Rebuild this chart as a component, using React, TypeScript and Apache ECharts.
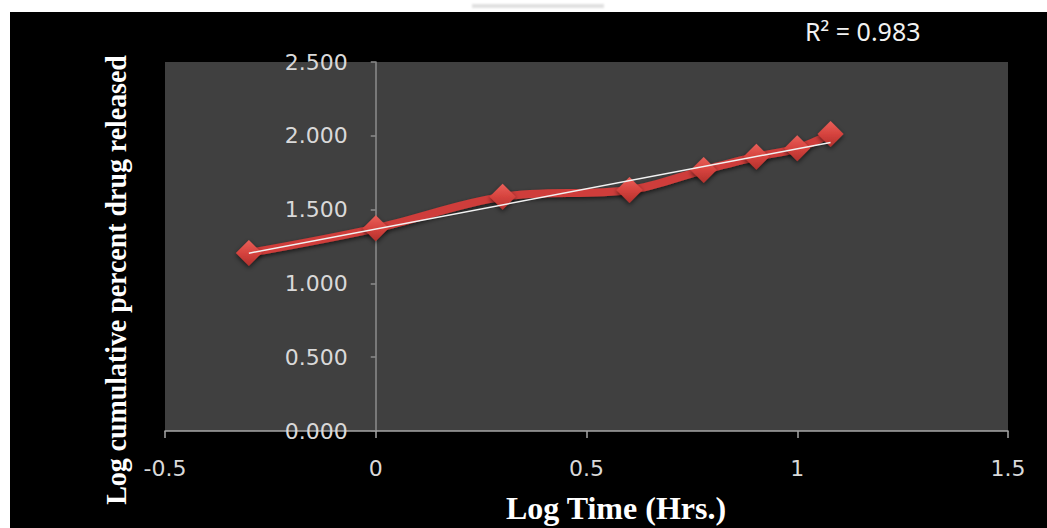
import React, { useEffect, useRef } from "react";
import * as echarts from "echarts";

const logTime = [-0.301, 0, 0.301, 0.602, 0.778, 0.903, 1.0, 1.079];
const logRelease = [1.206, 1.373, 1.587, 1.633, 1.768, 1.858, 1.915, 2.012];
const trendX = [-0.301, 1.079];
const trendY = [1.205, 1.955];
const xTicks = [-0.5, 1.5, 0.5];
const yTicks = [0, 2.5, 0.5];
const rSquaredLabel = "R² = 0.983";
const xTitle = "Log Time (Hrs.)";
const yTitle = "Log cumulative percent drug released";

export default function App() {
  const ref = useRef<HTMLDivElement>(null);
  useEffect(() => {
    if (!ref.current) return;
    const chart = echarts.init(ref.current, null, { renderer: "svg" });
    const tickFont = "'DejaVu Sans', sans-serif";
    const gridLeft = 155;
    const gridRight = 39;
    const gridWidth = 1037 - gridLeft - gridRight;
    const zeroOffset = -gridWidth * (0 - xTicks[0]) / (xTicks[1] - xTicks[0]);
    chart.setOption({
      animation: false,
      backgroundColor: "#000000",
      grid: {
        left: gridLeft,
        top: 50,
        right: gridRight,
        bottom: 97,
        show: true,
        backgroundColor: "#404040",
        borderWidth: 0,
      },
      xAxis: {
        type: "value",
        min: xTicks[0],
        max: xTicks[1],
        interval: xTicks[2],
        axisLine: { show: true, onZero: false, lineStyle: { color: "#a6a6a6", width: 1.5 } },
        axisTick: { show: true, inside: false, length: 7, lineStyle: { color: "#a6a6a6", width: 1.5 } },
        splitLine: { show: false },
        axisLabel: {
          color: "#d9d9d9",
          fontFamily: tickFont,
          fontSize: 22,
          margin: 26,
          showMinLabel: true,
          showMaxLabel: true,
        },
      },
      yAxis: {
        type: "value",
        position: "left",
        offset: zeroOffset,
        min: yTicks[0],
        max: yTicks[1],
        interval: yTicks[2],
        axisLine: { show: true, onZero: false, lineStyle: { color: "#8c8c8c", width: 1.5 } },
        axisTick: { show: true, inside: false, length: 5, lineStyle: { color: "#8c8c8c", width: 1.5 } },
        splitLine: { show: false },
        axisLabel: {
          color: "#d9d9d9",
          fontFamily: tickFont,
          fontSize: 22,
          margin: 28,
          formatter: (v: number) => v.toFixed(3),
        },
      },
      series: [
        {
          type: "line",
          data: logTime.map((x, i) => [x, logRelease[i]]),
          smooth: 0.35,
          z: 2,
          lineStyle: {
            color: "#cf3e3a",
            width: 8,
            shadowColor: "rgba(0,0,0,0.6)",
            shadowBlur: 4,
            shadowOffsetY: 2,
          },
          symbol: "diamond",
          symbolSize: 26,
          itemStyle: {
            color: new echarts.graphic.LinearGradient(0, 0, 0, 1, [
              { offset: 0, color: "#e9605a" },
              { offset: 0.5, color: "#d6433e" },
              { offset: 1, color: "#b3302c" },
            ]),
            shadowColor: "rgba(0,0,0,0.6)",
            shadowBlur: 5,
            shadowOffsetY: 2,
          },
        },
        {
          type: "line",
          data: trendX.map((x, i) => [x, trendY[i]]),
          z: 5,
          symbol: "none",
          lineStyle: { color: "#f2f2f2", width: 1.5 },
        },
      ],
      graphic: [
        {
          type: "text",
          x: 795,
          y: 19,
          style: {
            text: rSquaredLabel,
            fill: "#f2f2f2",
            font: "25px 'Noto Sans', sans-serif",
            textVerticalAlign: "middle",
          },
        },
        {
          type: "text",
          x: 606,
          y: 496,
          style: {
            text: xTitle,
            fill: "#ffffff",
            font: "bold 32px 'Liberation Serif', serif",
            textAlign: "center",
            textVerticalAlign: "middle",
          },
        },
        {
          type: "text",
          x: 106,
          y: 268,
          rotation: Math.PI / 2,
          scaleX: 0.93,
          style: {
            text: yTitle,
            fill: "#ffffff",
            font: "bold 30px 'Liberation Serif', serif",
            textAlign: "center",
            textVerticalAlign: "middle",
          },
        },
      ],
    });
    return () => chart.dispose();
  }, []);
  return (
    <div style={{ position: "fixed", left: 0, top: 0, width: 1047, height: 528, background: "#ffffff" }}>
      <div
        style={{
          position: "absolute",
          left: 472,
          top: 4,
          width: 132,
          height: 4,
          background: "#e0e0e0",
          filter: "blur(1px)",
        }}
      />
      <div ref={ref} style={{ position: "absolute", left: 10, top: 12, width: 1037, height: 516 }} />
    </div>
  );
}
